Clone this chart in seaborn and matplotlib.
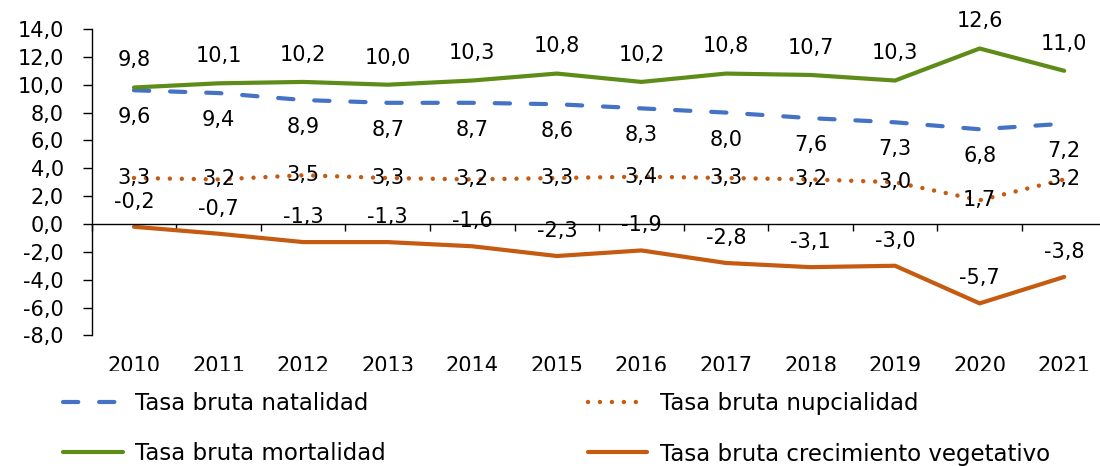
import numpy as np
import pandas as pd
import matplotlib
matplotlib.use("Agg")
import matplotlib.pyplot as plt
import matplotlib.transforms as mtransforms
from matplotlib.patches import Rectangle
import seaborn as sns

# ---------------- data ----------------
years = ["2010", "2011", "2012", "2013", "2014", "2015",
         "2016", "2017", "2018", "2019", "2020", "2021"]
natalidad = [9.6, 9.4, 8.9, 8.7, 8.7, 8.6, 8.3, 8.0, 7.6, 7.3, 6.8, 7.2]
mortalidad = [9.8, 10.1, 10.2, 10.0, 10.3, 10.8, 10.2, 10.8, 10.7, 10.3, 12.6, 11.0]
nupcialidad = [3.3, 3.2, 3.5, 3.3, 3.2, 3.3, 3.4, 3.3, 3.2, 3.0, 1.7, 3.2]
crecimiento = [-0.2, -0.7, -1.3, -1.3, -1.6, -2.3, -1.9, -2.8, -3.1, -3.0, -5.7, -3.8]

series_names = ["Tasa bruta natalidad", "Tasa bruta mortalidad",
                "Tasa bruta nupcialidad", "Tasa bruta crecimiento vegetativo"]
y_ticks = [14, 12, 10, 8, 6, 4, 2, 0, -2, -4, -6, -8]
y_tick_labels = ["14,0", "12,0", "10,0", "8,0", "6,0", "4,0", "2,0",
                 "0,0", "-2,0", "-4,0", "-6,0", "-8,0"]

# ---------------- style ----------------
sns.set_theme(style="white")
plt.rcParams["font.family"] = ["DejaVu Sans"]
plt.rcParams["lines.scale_dashes"] = False
plt.rcParams["text.color"] = "black"
plt.rcParams["axes.labelcolor"] = "black"
plt.rcParams["xtick.color"] = "black"
plt.rcParams["ytick.color"] = "black"

W, H = 1100, 466
fig = plt.figure(figsize=(W / 100, H / 100), dpi=100)
ax = fig.add_axes([91.7 / W, 1 - 335.4 / H, (1106.5 - 91.7) / W, (335.4 - 29) / H])

pos = np.arange(len(years))
df = pd.DataFrame({"pos": pos, "nat": natalidad, "mort": mortalidad,
                   "nup": nupcialidad, "crec": crecimiento})

c_blue = "#4472C4"
c_green = "#5E8C18"
c_orange = "#C55A11"

specs = [
    ("nat", series_names[0], c_blue, (0, (11, 15)), 3.0, -19.5),
    ("mort", series_names[1], c_green, "-", 3.0, 19.5),
    ("nup", series_names[2], c_orange, (0, (0.01, 8.6)), 3.2, 0),
    ("crec", series_names[3], c_orange, "-", 3.0, 18.0),
]

for col, name, color, ls, lw, off in specs:
    sns.lineplot(data=df, x="pos", y=col, ax=ax, color=color, lw=lw,
                 linestyle=ls, label=name, dash_capstyle="round",
                 solid_capstyle="round", zorder=2)
    for i, v in zip(df["pos"], df[col]):
        ax.annotate(f"{v:.1f}".replace(".", ","), (i, v), xytext=(0, off),
                    textcoords="offset points", ha="center", va="center",
                    fontsize=15, zorder=4, annotation_clip=False)

# ---------------- axes ----------------
ax.set_xlim(-0.5, len(years) - 0.5)
ax.set_ylim(-8, 14)
ax.set_yticks(y_ticks)
ax.set_yticklabels(y_tick_labels)
ax.set_xticks(np.arange(-0.5, len(years), 1.0))
ax.set_xticklabels([])
ax.set_xlabel("")
ax.set_ylabel("")
for s in ["top", "right"]:
    ax.spines[s].set_visible(False)
ax.spines["bottom"].set_position(("data", 0))
for s in ["left", "bottom"]:
    ax.spines[s].set_color("black")
    ax.spines[s].set_linewidth(1.0)
ax.tick_params(axis="y", left=True, length=6.5, width=1.0, pad=13.5,
               labelsize=15, direction="out")
ax.tick_params(axis="x", bottom=True, length=5, width=1.0, direction="out")
ax.grid(False)

trans = mtransforms.offset_copy(ax.get_xaxis_transform(), fig=fig, y=-37, units="dots")
for i, yr in zip(pos, years):
    ax.text(i, 0, yr, transform=trans, ha="center", va="baseline",
            fontsize=15, clip_on=False)

# mask the lower part of the year labels like in the original
fig.add_artist(Rectangle((0, 0), 1, (H - 371) / H, transform=fig.transFigure,
                         facecolor="white", edgecolor="none", zorder=3))

# ---------------- legend ----------------
handles, labels = ax.get_legend_handles_labels()
if ax.get_legend() is not None:
    ax.get_legend().remove()
leg = fig.legend(handles, labels, ncol=2, loc="upper left",
                 bbox_to_anchor=(63 / W, 1 - 392 / H), frameon=False,
                 fontsize=16.5, handlelength=2.6, handletextpad=0.55,
                 columnspacing=8.8, labelspacing=1.2, borderpad=0,
                 borderaxespad=0)
leg.set_zorder(5)

fig.savefig("out.png", dpi=100)
